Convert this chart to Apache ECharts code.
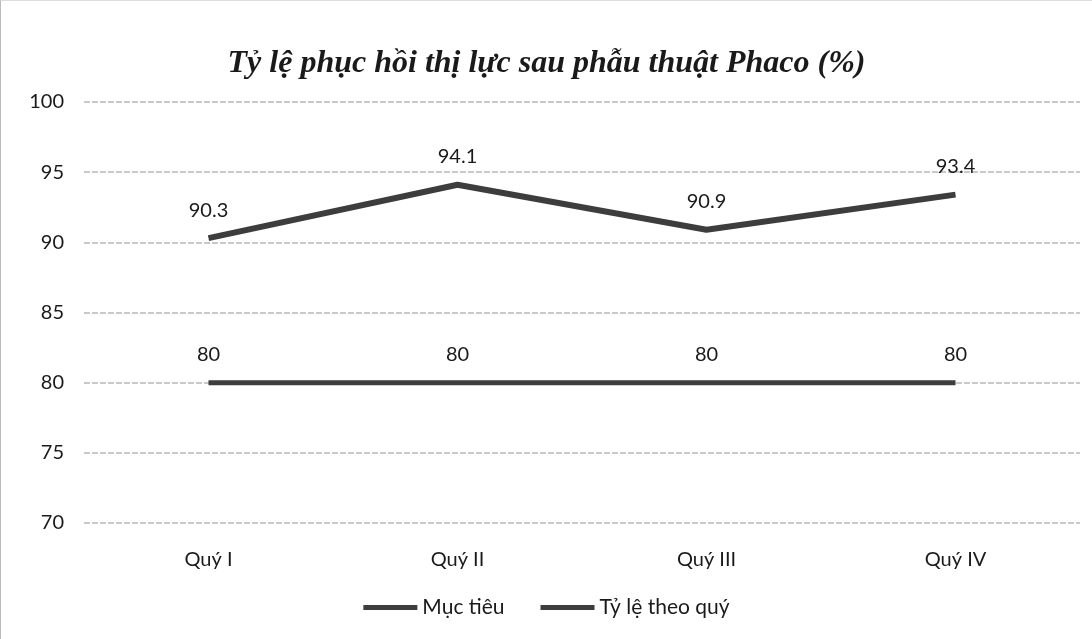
<!DOCTYPE html>
<html>
<head>
<meta charset="utf-8">
<script src="https://cdn.jsdelivr.net/npm/echarts@6/dist/echarts.min.js"></script>
<style>
  html, body { margin: 0; padding: 0; background: #fff; }
  #chart { width: 1092px; height: 639px; box-sizing: border-box; border-left: 1px solid #bbb; border-top: 1px solid #ddd; }
</style>
</head>
<body>
<div id="chart"></div>
<script>
// du lieu
var quarters = ['Quý I', 'Quý II', 'Quý III', 'Quý IV'];
var targetValues = [80, 80, 80, 80];
var rateValues = [90.3, 94.1, 90.9, 93.4];
var yMin = 70, yMax = 100, yStep = 5;

var lineColor = '#3d3d3d';
var textFont = 'Lato';

var chart = echarts.init(document.getElementById('chart'));

function lineSeries(name, values, width) {
  return {
    name: name,
    type: 'line',
    data: values,
    symbol: 'circle',
    symbolSize: 0.1,
    lineStyle: { color: lineColor, width: width },
    itemStyle: { color: lineColor },
    label: {
      show: true,
      position: 'top',
      distance: 18,
      color: '#1a1a1a',
      fontFamily: textFont,
      fontSize: 20
    }
  };
}

var option = {
  backgroundColor: '#fff',
  animation: false,
  title: {
    text: 'Tỷ lệ phục hồi thị lực sau phẫu thuật Phaco (%)',
    left: 'center',
    top: 42,
    textStyle: {
      fontFamily: 'Liberation Serif',
      fontStyle: 'italic',
      fontWeight: 'bold',
      fontSize: 32,
      color: '#1a1a1a'
    }
  },
  legend: {
    bottom: 16,
    left: 'center',
    itemWidth: 54,
    itemHeight: 5,
    itemGap: 36,
    icon: 'rect',
    textStyle: { fontFamily: textFont, fontSize: 21, color: '#1a1a1a' },
    data: ['Mục tiêu', 'Tỷ lệ theo quý']
  },
  grid: { left: 83, right: 12, top: 101, bottom: 116 },
  xAxis: {
    type: 'category',
    data: quarters,
    boundaryGap: true,
    axisLine: { show: false },
    axisTick: { show: false },
    axisLabel: { fontFamily: textFont, fontSize: 20, color: '#1a1a1a', margin: 27 }
  },
  yAxis: {
    type: 'value',
    min: yMin,
    max: yMax,
    interval: yStep,
    axisLine: { show: false },
    axisTick: { show: false },
    axisLabel: { fontFamily: textFont, fontSize: 20, color: '#1a1a1a', margin: 20 },
    splitLine: { lineStyle: { color: '#b8b8b8', width: 1.5, type: [6, 2] } }
  },
  series: [
    lineSeries('Mục tiêu', targetValues, 5),
    lineSeries('Tỷ lệ theo quý', rateValues, 6)
  ]
};

chart.setOption(option);
</script>
</body>
</html>
